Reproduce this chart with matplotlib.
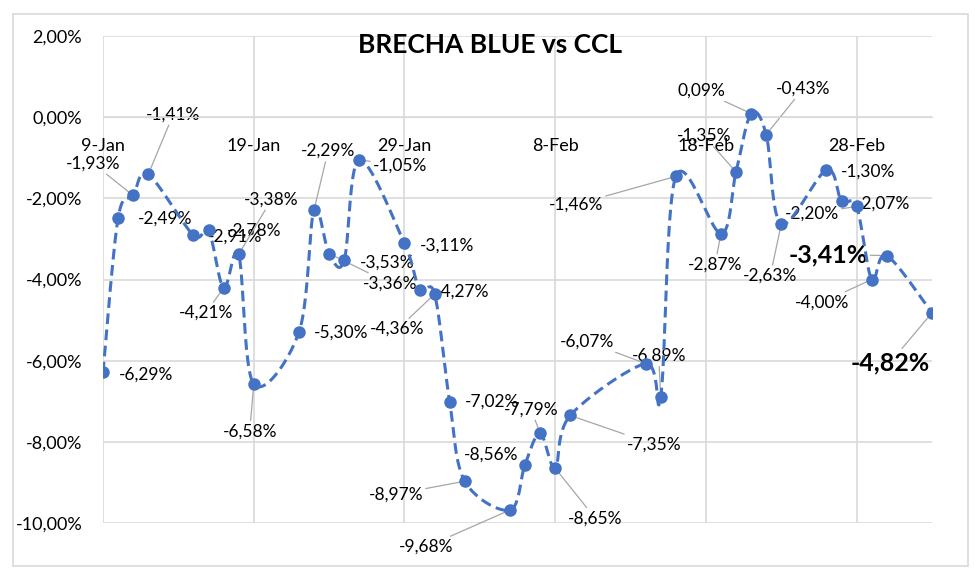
import matplotlib
matplotlib.use('Agg')
import matplotlib.pyplot as plt
import matplotlib.dates as mdates
from matplotlib.patches import Rectangle
import numpy as np
import pandas as pd

plt.rcParams['font.family'] = ['Lato', 'DejaVu Sans']

dates = ['2024-01-09', '2024-01-10', '2024-01-11', '2024-01-12', '2024-01-15',
         '2024-01-16', '2024-01-17', '2024-01-18', '2024-01-19', '2024-01-22',
         '2024-01-23', '2024-01-24', '2024-01-25', '2024-01-26', '2024-01-29',
         '2024-01-30', '2024-01-31', '2024-02-01', '2024-02-02', '2024-02-05',
         '2024-02-06', '2024-02-07', '2024-02-08', '2024-02-09', '2024-02-14',
         '2024-02-15', '2024-02-16', '2024-02-19', '2024-02-20', '2024-02-21',
         '2024-02-22', '2024-02-23', '2024-02-26', '2024-02-27', '2024-02-28',
         '2024-02-29', '2024-03-01', '2024-03-04']
brecha = [-6.29, -2.49, -1.93, -1.41, -2.91, -2.78, -4.21, -3.38, -6.58, -5.30,
          -2.29, -3.36, -3.53, -1.05, -3.11, -4.27, -4.36, -7.02, -8.97, -9.68,
          -8.56, -7.79, -8.65, -7.35, -6.07, -6.89, -1.46, -2.87, -1.35, 0.09,
          -0.43, -2.63, -1.30, -2.07, -2.20, -4.00, -3.41, -4.82]
tick_dates = ['2024-01-09', '2024-01-19', '2024-01-29', '2024-02-08', '2024-02-18', '2024-02-28']
tick_labels = ['9-Jan', '19-Jan', '29-Jan', '8-Feb', '18-Feb', '28-Feb']
y_ticks = [2, 0, -2, -4, -6, -8, -10]

# label offsets in pixels (dx, dy up), and whether a leader line is drawn
offsets = [(43, -2), (47, 0), (-40, 32), (25, 60), (42, -1), (46, -1), (-18, -25),
           (33, 55), (-4, -47), (42, 0), (14, 59), (61, -30), (43, -2), (41, -6),
           (43, -2), (43, -1), (-37, -35), (42, 0), (-69, -13), (-84, -37),
           (-34, 10), (-9, 24), (40, -50), (84, -29), (-59, 22), (-2, 41),
           (-100, -28), (-6, -31), (-32, 36), (-50, 23), (37, 46), (-11, -52),
           (42, -2), (41, -2), (-45, -7), (-50, -23), (-59, 1), (-42, -50)]
leaders = [0, 0, 1, 1, 0, 0, 1, 1, 1, 0, 1, 1, 0, 1, 0, 0, 1, 0, 1, 1,
           0, 1, 1, 1, 1, 1, 1, 1, 1, 1, 1, 1, 0, 0, 1, 1, 1, 1]
big = [36, 37]

blue = '#4472C4'
grid = '#D9D9D9'

x = mdates.date2num(pd.to_datetime(dates))
xt = mdates.date2num(pd.to_datetime(tick_dates))
y = np.array(brecha)

fig = plt.figure(figsize=(9.8, 5.78), dpi=100)
fig.patches.append(Rectangle((13 / 980, 12 / 578), 955 / 980, 552 / 578, transform=fig.transFigure,
                             fill=False, edgecolor=grid, linewidth=1.2))
ax = fig.add_axes([103 / 980, 55 / 578, 829 / 980, 487 / 578])
ax.set_xlim(x[0], x[0] + 55)
ax.set_ylim(-10, 2)

for s in ['top', 'right', 'left']:
    ax.spines[s].set_visible(False)
ax.spines['bottom'].set_position(('data', 0))
ax.spines['bottom'].set_color(grid)
ax.set_xticks(xt)
ax.set_xticklabels(tick_labels)
ax.set_yticks(y_ticks)
ax.set_yticklabels([f'{v:.2f}%'.replace('.', ',') for v in y_ticks])
ax.tick_params(axis='both', length=0, labelsize=13)
ax.tick_params(axis='x', pad=15)
ax.tick_params(axis='y', pad=15)
ax.grid(True, color=grid, linewidth=1.2)
ax.set_axisbelow(True)

# smoothed line (excel style bezier, built in screen space)
pts = ax.transData.transform(np.column_stack([x, y]))
ext = np.vstack([pts[0], pts, pts[-1]])
curve = []
tt = np.linspace(0, 1, 25)[:, None]
for i in range(len(pts) - 1):
    p0, p1 = ext[i + 1], ext[i + 2]
    c1 = p0 + (ext[i + 2] - ext[i]) / 6
    c2 = p1 - (ext[i + 3] - ext[i + 1]) / 6
    seg = (1 - tt) ** 3 * p0 + 3 * (1 - tt) ** 2 * tt * c1 + 3 * (1 - tt) * tt ** 2 * c2 + tt ** 3 * p1
    curve.append(seg)
curve = ax.transData.inverted().transform(np.vstack(curve))
ax.plot(curve[:, 0], curve[:, 1], color=blue, linewidth=2.2, linestyle=(0, (3.5, 1.8)), zorder=3)
ax.plot(x, y, 'o', color=blue, markersize=8, zorder=4)

for i in range(len(x)):
    txt = f'{y[i]:.2f}%'.replace('.', ',')
    dx, dy = offsets[i]
    kw = dict(fontsize=18, fontweight='bold') if i in big else dict(fontsize=12.5)
    ap = dict(arrowstyle='-', color='#A6A6A6', linewidth=0.9, shrinkA=0, shrinkB=0) if leaders[i] else None
    ax.annotate(txt, (x[i], y[i]), xytext=(dx, dy), textcoords='offset pixels',
                ha='center', va='center', arrowprops=ap, zorder=2, **kw)

fig.text(490 / 980, 1 - 45 / 578, 'BRECHA BLUE vs CCL', ha='center', va='center',
         fontsize=19, fontweight='bold')

fig.savefig('out.png', dpi=100)
